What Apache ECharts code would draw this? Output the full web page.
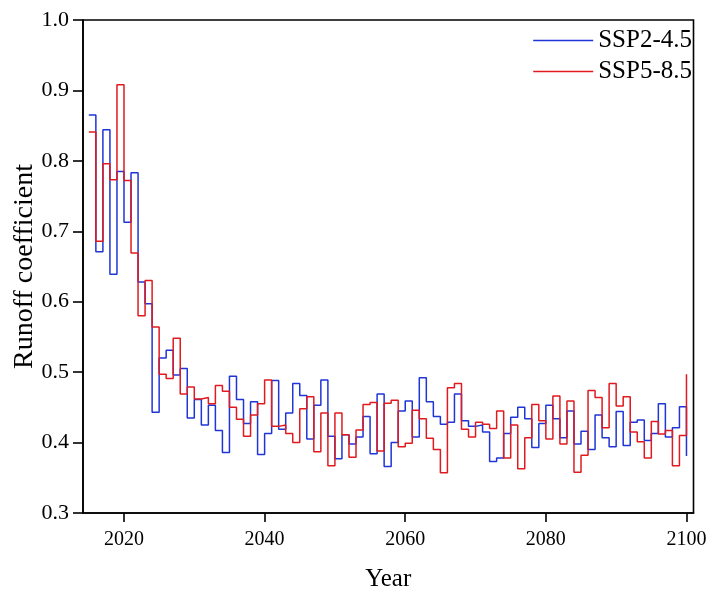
<!DOCTYPE html>
<html>
<head>
<meta charset="utf-8">
<title>Runoff coefficient</title>
<script src="https://cdn.jsdelivr.net/npm/echarts@6/dist/echarts.min.js"></script>
<style>
  html, body { margin: 0; padding: 0; background: #fff; }
  #chart { width: 709px; height: 590px; }
</style>
</head>
<body>
<div id="chart"></div>
<script>
// Annual runoff coefficient, 2015-2100, for two emission scenarios
const startYear = 2015;
const endYear = 2100;

const ssp245 = [
  0.865, 0.671, 0.844, 0.639, 0.785, 0.713, 0.783, 0.628, 0.597, 0.443,
  0.520, 0.531, 0.496, 0.505, 0.435, 0.461, 0.425, 0.453, 0.417, 0.386,
  0.494, 0.461, 0.427, 0.458, 0.383, 0.413, 0.488, 0.419, 0.442, 0.484,
  0.467, 0.405, 0.453, 0.489, 0.409, 0.377, 0.411, 0.398, 0.408, 0.437,
  0.384, 0.469, 0.366, 0.400, 0.445, 0.459, 0.408, 0.492, 0.458, 0.437,
  0.426, 0.429, 0.469, 0.431, 0.423, 0.425, 0.415, 0.373, 0.378, 0.413,
  0.436, 0.450, 0.434, 0.393, 0.427, 0.453, 0.434, 0.407, 0.445, 0.398,
  0.416, 0.390, 0.439, 0.407, 0.394, 0.444, 0.396, 0.429, 0.432, 0.403,
  0.413, 0.455, 0.408, 0.421, 0.451, 0.381
];

const ssp585 = [
  0.841, 0.686, 0.796, 0.773, 0.908, 0.772, 0.669, 0.580, 0.630, 0.564,
  0.497, 0.491, 0.548, 0.469, 0.479, 0.462, 0.464, 0.455, 0.481, 0.473,
  0.450, 0.433, 0.409, 0.439, 0.455, 0.489, 0.423, 0.425, 0.413, 0.400,
  0.448, 0.465, 0.387, 0.442, 0.367, 0.442, 0.411, 0.379, 0.418, 0.454,
  0.457, 0.388, 0.456, 0.460, 0.394, 0.399, 0.446, 0.434, 0.406, 0.390,
  0.357, 0.478, 0.484, 0.419, 0.408, 0.429, 0.426, 0.420, 0.445, 0.378,
  0.425, 0.363, 0.407, 0.454, 0.431, 0.405, 0.466, 0.398, 0.459, 0.358,
  0.382, 0.474, 0.464, 0.421, 0.484, 0.452, 0.465, 0.415, 0.401, 0.378,
  0.430, 0.412, 0.417, 0.367, 0.410, 0.497
];

const yearTicks = [2020, 2040, 2060, 2080, 2100];
const seriesNames = ['SSP2-4.5', 'SSP5-8.5'];
const seriesColors = ['#1f35d6', '#e01a1f'];

const years = [];
for (let y = startYear; y <= endYear; y++) years.push(y);
const pairs = vals => years.map((y, i) => [y, vals[i]]);

const serif = "'Liberation Serif', 'Times New Roman', serif";
const ink = '#000';

const chart = echarts.init(document.getElementById('chart'), null, { renderer: 'canvas' });

chart.setOption({
  animation: false,
  backgroundColor: '#fff',
  textStyle: { fontFamily: serif, color: ink },
  grid: {
    left: 83, right: 15.5, top: 20, bottom: 77,
    show: true, borderColor: ink, borderWidth: 1.6,
    outerBoundsMode: 'none'
  },
  legend: {
    show: true,
    data: seriesNames,
    orient: 'vertical',
    right: 12,
    top: 23,
    icon: 'rect',
    itemWidth: 60,
    itemHeight: 1.5,
    itemGap: 6,
    textStyle: { fontFamily: serif, fontSize: 25, color: ink }
  },
  xAxis: {
    type: 'value',
    min: 2014.17,
    max: 2101,
    name: 'Year',
    nameLocation: 'middle',
    nameGap: 54,
    nameTextStyle: { fontFamily: serif, fontSize: 25, color: ink },
    splitLine: { show: false },
    axisLine: { show: true, lineStyle: { color: ink, width: 1.6 } },
    axisTick: { show: true, length: 9, lineStyle: { color: ink, width: 1.6 }, customValues: yearTicks },
    axisLabel: {
      fontFamily: serif, fontSize: 20, color: ink, margin: 17,
      customValues: yearTicks,
      formatter: v => String(Math.round(v))
    }
  },
  yAxis: {
    type: 'value',
    min: 0.3,
    max: 1.0,
    interval: 0.1,
    name: 'Runoff coefficient',
    nameLocation: 'middle',
    nameGap: 44,
    nameMoveOverlap: false,
    nameTextStyle: { fontFamily: serif, fontSize: 28, color: ink },
    splitLine: { show: false },
    axisLine: { show: true, lineStyle: { color: ink, width: 1.6 } },
    axisTick: { show: true, length: 10, lineStyle: { color: ink, width: 1.6 } },
    axisLabel: {
      fontFamily: serif, fontSize: 22, color: ink, margin: 14,
      formatter: v => v.toFixed(1)
    }
  },
  series: [
    {
      name: seriesNames[0],
      type: 'line',
      step: 'end',
      data: pairs(ssp245),
      symbol: 'none',
      lineStyle: { color: seriesColors[0], width: 1.5 },
      itemStyle: { color: seriesColors[0] }
    },
    {
      name: seriesNames[1],
      type: 'line',
      step: 'end',
      data: pairs(ssp585),
      symbol: 'none',
      lineStyle: { color: seriesColors[1], width: 1.5 },
      itemStyle: { color: seriesColors[1] }
    }
  ]
});
</script>
</body>
</html>
